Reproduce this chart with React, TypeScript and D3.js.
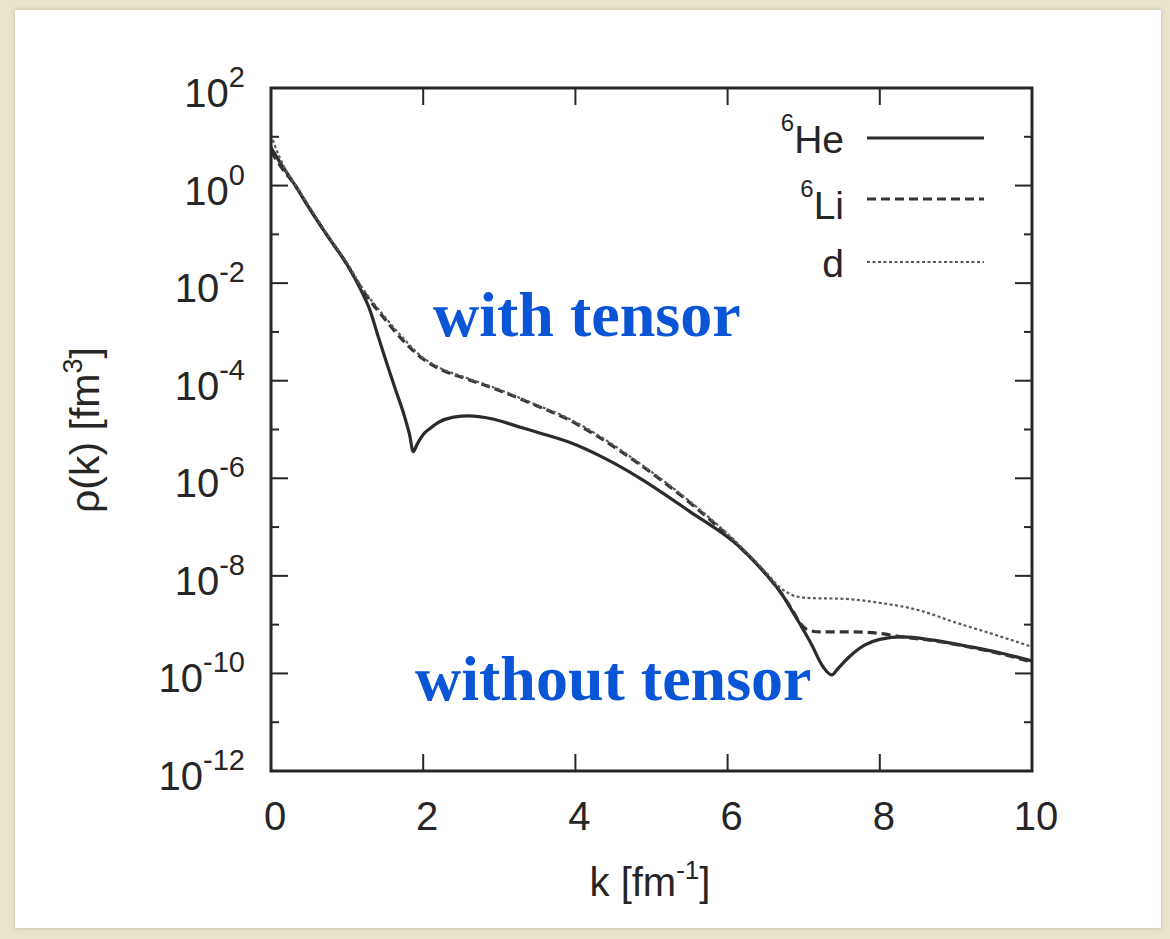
import React from 'react';
import * as d3 from 'd3';

// momentum distributions, rho(k) in fm^3
const kHe = [0, 0.15, 0.32, 0.5, 0.76, 1.0, 1.2, 1.3, 1.4, 1.52, 1.64, 1.74, 1.82, 1.87, 1.92, 2.0, 2.09, 2.2, 2.4, 2.6, 2.9, 3.27, 3.53, 3.93, 4.4, 4.85, 5.5, 6.16, 6.5, 6.7, 6.9, 7.1, 7.25, 7.37, 7.45, 7.6, 7.8, 8.0, 8.3, 8.7, 9.2, 9.6, 10];
const rhoHe = [6.0, 2.5, 1.0, 3.5e-1, 8.5e-2, 2.4e-2, 6.3e-3, 2.8e-3, 8.9e-4, 2.3e-4, 6.3e-5, 2.2e-5, 7.9e-6, 3.5e-6, 5.0e-6, 7.9e-6, 1.05e-5, 1.4e-5, 1.8e-5, 1.9e-5, 1.66e-5, 1.12e-5, 8.5e-6, 5.4e-6, 2.5e-6, 1.0e-6, 2.1e-7, 3.9e-8, 1.1e-8, 4.5e-9, 1.4e-9, 4.0e-10, 1.4e-10, 9.3e-11, 1.26e-10, 2.2e-10, 3.8e-10, 5.0e-10, 5.6e-10, 4.8e-10, 3.5e-10, 2.6e-10, 1.8e-10];

const kLi = [0, 0.15, 0.32, 0.5, 0.76, 1.0, 1.2, 1.5, 1.75, 1.96, 2.2, 2.6, 3.0, 3.53, 3.84, 4.3, 4.85, 5.5, 6.16, 6.5, 6.7, 6.85, 6.95, 7.05, 7.2, 7.6, 8.0, 8.3, 8.7, 9.2, 9.6, 10];
const rhoLi = [5.0, 2.2, 1.0, 3.5e-1, 8.5e-2, 2.4e-2, 7.4e-3, 1.8e-3, 6.3e-4, 3.1e-4, 1.8e-4, 1.05e-4, 6.3e-5, 2.9e-5, 1.8e-5, 7.1e-6, 1.9e-6, 3.2e-7, 3.9e-8, 1.1e-8, 4.5e-9, 2.0e-9, 1.1e-9, 7.9e-10, 7.1e-10, 7.1e-10, 6.6e-10, 5.6e-10, 4.7e-10, 3.4e-10, 2.5e-10, 1.7e-10];

const kD = [0, 0.08, 0.2, 0.32, 0.5, 0.76, 1.0, 1.2, 1.5, 1.75, 1.96, 2.2, 2.6, 3.0, 3.53, 3.84, 4.3, 4.85, 5.5, 6.16, 6.5, 6.7, 6.8, 6.9, 7.1, 7.5, 8.0, 8.5, 9.0, 9.5, 10];
const rhoD = [11, 5.0, 2.0, 1.05, 3.8e-1, 9.0e-2, 2.6e-2, 8.0e-3, 2.0e-3, 7.1e-4, 3.3e-4, 1.9e-4, 1.1e-4, 6.6e-5, 3.0e-5, 1.9e-5, 7.6e-6, 2.0e-6, 3.4e-7, 4.2e-8, 1.2e-8, 5.6e-9, 4.4e-9, 3.8e-9, 3.5e-9, 3.4e-9, 2.8e-9, 2.0e-9, 1.1e-9, 6.3e-10, 3.5e-10];

const xTicks = [0, 2, 4, 6, 8, 10];
const yMajorExp = [2, 0, -2, -4, -6, -8, -10, -12];
const yMinorExp = [1, -1, -3, -5, -7, -9, -11];

const seriesNames = ['He', 'Li', 'd'];
const seriesSup = ['6', '6', ''];

const W = 1170, H = 939;
const left = 271, right = 1032, top = 88, bottom = 771;
const sansFont = '"Liberation Sans", Arial, Helvetica, sans-serif';
const ink = '#262626';

const styles = [
  { stroke: '#2b2b2b', width: 3.2, dash: null as string | null },
  { stroke: '#333333', width: 3.2, dash: '9,5' },
  { stroke: '#5a5a5a', width: 2.2, dash: '3,2.5' },
];

export default function App() {
  const x = d3.scaleLinear().domain([0, 10]).range([left, right]);
  const y = d3.scaleLog().domain([1e-12, 1e2]).range([bottom, top]);

  const lineGen = d3.line<[number, number]>()
    .x(d => x(d[0]))
    .y(d => y(d[1]))
    .curve(d3.curveMonotoneX);

  const series = [
    kHe.map((k, i) => [k, rhoHe[i]] as [number, number]),
    kLi.map((k, i) => [k, rhoLi[i]] as [number, number]),
    kD.map((k, i) => [k, rhoD[i]] as [number, number]),
  ];

  const legendY = [138, 199, 262];

  return (
    <svg width={W} height={H} style={{ position: 'absolute', left: 0, top: 0 }}>
      <defs>
        <clipPath id="plotClip">
          <rect x={left} y={top} width={right - left} height={bottom - top} />
        </clipPath>
        <filter id="shadow" x="-5%" y="-5%" width="110%" height="110%">
          <feDropShadow dx="0" dy="0" stdDeviation="2" floodColor="#a89f7a" floodOpacity="0.6" />
        </filter>
      </defs>
      <rect x={0} y={0} width={W} height={H} fill="#e9e4cc" />
      <rect x={15} y={10} width={1146} height={918} fill="#ffffff" filter="url(#shadow)" />

      {/* curves */}
      <g clipPath="url(#plotClip)">
        {series.map((s, i) => (
          <path key={i} d={lineGen(s) || ''} fill="none"
            stroke={styles[i].stroke} strokeWidth={styles[i].width}
            strokeDasharray={styles[i].dash || undefined}
            strokeLinejoin="round" />
        ))}
      </g>

      {/* ticks */}
      <g stroke={ink} strokeWidth={2}>
        {xTicks.slice(1, -1).map(t => (
          <g key={'xt' + t}>
            <line x1={x(t)} x2={x(t)} y1={bottom} y2={bottom - 17} />
            <line x1={x(t)} x2={x(t)} y1={top} y2={top + 17} />
          </g>
        ))}
        {yMajorExp.slice(1, -1).map(e => (
          <g key={'ym' + e}>
            <line x1={left} x2={left + 17} y1={y(Math.pow(10, e))} y2={y(Math.pow(10, e))} />
            <line x1={right} x2={right - 17} y1={y(Math.pow(10, e))} y2={y(Math.pow(10, e))} />
          </g>
        ))}
        {yMinorExp.map(e => (
          <g key={'yn' + e}>
            <line x1={left} x2={left + 8} y1={y(Math.pow(10, e))} y2={y(Math.pow(10, e))} />
            <line x1={right} x2={right - 8} y1={y(Math.pow(10, e))} y2={y(Math.pow(10, e))} />
          </g>
        ))}
      </g>

      {/* frame */}
      <rect x={left} y={top} width={right - left} height={bottom - top}
        fill="none" stroke={ink} strokeWidth={3} />

      {/* y tick labels */}
      <g fontFamily={sansFont} fill={ink}>
        {yMajorExp.map(e => (
          <text key={'yl' + e} x={245} y={y(Math.pow(10, e)) + 19} textAnchor="end" fontSize={40}>
            10<tspan fontSize={29} dy={-20}>{e < 0 ? '-' + Math.abs(e) : String(e)}</tspan>
          </text>
        ))}
        {xTicks.map(t => (
          <text key={'xl' + t} x={x(t) + 4} y={830} textAnchor="middle" fontSize={40}>{t}</text>
        ))}
        <text x={650} y={896} textAnchor="middle" fontSize={40}>
          k [fm<tspan fontSize={26} dy={-17}>-1</tspan><tspan dy={17}>]</tspan>
        </text>
        <text transform="translate(99,430) rotate(-90)" textAnchor="middle" fontSize={41}>
          ρ(k) [fm<tspan fontSize={27} dy={-17}>3</tspan><tspan dy={17}>]</tspan>
        </text>
      </g>

      {/* legend */}
      <g fontFamily={sansFont} fill={ink}>
        {seriesNames.map((name, i) => (
          <g key={name}>
            <text x={844} y={legendY[i] + (i === 0 ? 15 : i === 1 ? 20 : 15)} textAnchor="end" fontSize={39}>
              {seriesSup[i] && <tspan fontSize={24} dy={-22}>{seriesSup[i]}</tspan>}
              <tspan dy={seriesSup[i] ? 22 : 0}>{name}</tspan>
            </text>
            <line x1={867} x2={984} y1={legendY[i]} y2={legendY[i]}
              stroke={styles[i].stroke} strokeWidth={styles[i].width}
              strokeDasharray={styles[i].dash || undefined} />
          </g>
        ))}
      </g>

      {/* annotations */}
      <g fontFamily='"Liberation Serif", "Times New Roman", serif' fontWeight="bold" fill="#0a55d6" fontSize={64}>
        <text x={433} y={336}>with tensor</text>
        <text x={415} y={700}>without tensor</text>
      </g>
    </svg>
  );
}
